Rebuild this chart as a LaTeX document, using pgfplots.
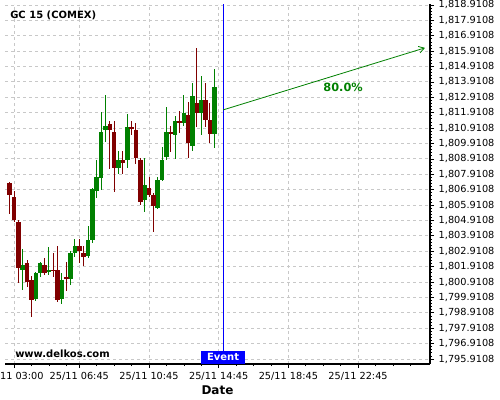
\documentclass[border=0pt]{standalone}
\usepackage{pgfplots}
\pgfplotsset{compat=1.18}
\usepackage{pgfplotstable}
\usepackage{fontspec}
\setmainfont{DejaVu Sans}
\usetikzlibrary{arrows.meta}
\definecolor{cgreen}{RGB}{0,128,0}
\definecolor{cred}{RGB}{128,0,0}
\definecolor{gridc}{RGB}{200,200,200}
\definecolor{evblue}{RGB}{0,0,255}

\pgfplotstableread{
t o h l c
3.50 1801.71 1803.04 1800.39 1802.02
4.25 1799.79 1801.56 1799.70 1801.50
4.50 1801.50 1802.23 1801.22 1802.15
5.00 1801.54 1803.23 1801.41 1801.71
5.75 1799.83 1801.48 1799.48 1801.04
6.25 1801.13 1802.93 1800.70 1802.80
6.50 1802.82 1803.69 1802.56 1803.25
7.25 1802.60 1804.57 1802.47 1803.64
7.50 1803.64 1807.02 1803.43 1806.96
7.75 1806.83 1808.82 1806.37 1807.72
8.00 1807.67 1811.94 1806.89 1810.68
8.25 1810.79 1813.06 1810.03 1811.05
9.00 1808.32 1809.41 1807.91 1808.84
9.50 1808.84 1811.85 1808.32 1810.98
10.50 1806.24 1808.95 1805.48 1807.22
11.25 1805.72 1807.72 1805.64 1807.54
11.50 1807.54 1809.70 1807.48 1808.84
11.75 1809.05 1812.27 1808.86 1810.66
12.25 1810.48 1811.70 1808.89 1811.37
12.75 1811.24 1813.06 1811.05 1811.89
13.25 1809.75 1813.82 1809.42 1813.00
13.75 1811.91 1814.28 1810.46 1812.74
14.50 1810.53 1814.75 1809.64 1813.58
}\upT

\pgfplotstableread{
t o h l c
2.75 1807.33 1807.38 1805.33 1806.59
3.00 1806.44 1806.85 1804.79 1804.94
3.25 1804.83 1804.94 1800.89 1801.84
3.75 1802.15 1802.34 1800.57 1800.93
4.00 1801.04 1801.30 1798.62 1799.76
4.75 1802.02 1802.49 1801.39 1801.50
5.25 1801.71 1802.78 1801.22 1801.63
5.50 1801.71 1803.23 1799.59 1799.76
6.00 1801.24 1802.19 1800.33 1801.11
6.75 1803.25 1803.69 1802.17 1802.93
7.00 1802.80 1803.25 1801.93 1802.56
8.50 1811.18 1811.39 1808.27 1810.79
8.75 1810.66 1811.39 1806.76 1808.32
9.25 1808.84 1809.41 1807.91 1808.66
9.75 1810.98 1811.39 1810.46 1810.85
10.00 1810.79 1811.22 1808.60 1808.99
10.25 1808.84 1808.99 1805.96 1806.13
10.75 1807.02 1807.72 1806.42 1806.57
11.00 1806.57 1806.70 1804.18 1805.85
12.00 1810.66 1811.05 1809.34 1810.53
12.50 1811.37 1812.04 1810.61 1811.24
13.00 1811.76 1812.63 1808.99 1809.92
13.50 1812.54 1816.12 1810.96 1811.91
14.00 1812.74 1813.82 1810.96 1811.44
14.25 1811.44 1812.52 1809.92 1810.53
}\downT

\begin{document}
\begin{tikzpicture}
\path[use as bounding box] (-3.75pt,-27pt) rectangle (371.25pt,273pt);
\begin{axis}[
  at={(0,0)}, anchor=south west,
  scale only axis, width=318.75pt, height=270pt,
  xmin=2.483, xmax=26.88, ymin=1795.585, ymax=1818.97,
  axis x line*=bottom, axis y line*=right,
  axis line style={line width=0.8pt, black},
  xtick={3,6.75,10.75,14.75,18.75,22.75},
  xticklabels={25/11 03:00,25/11 06:45,25/11 10:45,25/11 14:45,25/11 18:45,25/11 22:45},
  minor xtick={4,5,6,7.75,8.75,9.75,11.75,12.75,13.75,15.75,16.75,17.75,19.75,20.75,21.75,23.75,24.75,25.75},
  ytick={1795.9108,1796.9108,1797.9108,1798.9108,1799.9108,1800.9108,1801.9108,1802.9108,1803.9108,1804.9108,1805.9108,1806.9108,1807.9108,1808.9108,1809.9108,1810.9108,1811.9108,1812.9108,1813.9108,1814.9108,1815.9108,1816.9108,1817.9108,1818.9108},
  yticklabels={{1,795.9108},{1,796.9108},{1,797.9108},{1,798.9108},{1,799.9108},{1,800.9108},{1,801.9108},{1,802.9108},{1,803.9108},{1,804.9108},{1,805.9108},{1,806.9108},{1,807.9108},{1,808.9108},{1,809.9108},{1,810.9108},{1,811.9108},{1,812.9108},{1,813.9108},{1,814.9108},{1,815.9108},{1,816.9108},{1,817.9108},{1,818.9108}},
  minor y tick num=4,
  yticklabel pos=right,
  tick align=outside,
  major tick length=3pt, minor tick length=1.6pt,
  tick style={black, line width=0.5pt},
  tick label style={font=\fontsize{7.3}{8}\selectfont},
  xmajorgrids, ymajorgrids,
  major grid style={gridc, line width=0.6pt, dash pattern=on 2.25pt off 2.25pt},
  xlabel={Date},
  xlabel style={font=\fontsize{9}{10}\selectfont\bfseries, yshift=3pt},
  clip mode=individual,
]
% wicks
\addplot[draw=none, mark=none, error bars/.cd, y dir=both, y explicit, error mark=none, error bar style={draw=cgreen, line width=0.75pt}]
  table[x=t, y expr={(\thisrow{h}+\thisrow{l})/2}, y error expr={(\thisrow{h}-\thisrow{l})/2}] {\upT};
\addplot[draw=none, mark=none, error bars/.cd, y dir=both, y explicit, error mark=none, error bar style={draw=cred, line width=0.75pt}]
  table[x=t, y expr={(\thisrow{h}+\thisrow{l})/2}, y error expr={(\thisrow{h}-\thisrow{l})/2}] {\downT};
% bodies
\addplot[draw=none, mark=none, error bars/.cd, y dir=both, y explicit, error mark=none, error bar style={draw=cgreen, line width=3.4pt}]
  table[x=t, y expr={(\thisrow{o}+\thisrow{c})/2}, y error expr={abs(\thisrow{c}-\thisrow{o})/2}] {\upT};
\addplot[draw=none, mark=none, error bars/.cd, y dir=both, y explicit, error mark=none, error bar style={draw=cred, line width=3.4pt}]
  table[x=t, y expr={(\thisrow{o}+\thisrow{c})/2}, y error expr={abs(\thisrow{c}-\thisrow{o})/2}] {\downT};
% event line
\addplot[evblue, line width=0.75pt, mark=none] coordinates {(15,1795.585) (15,1818.97)};
% projection arrow
\addplot[cgreen, line width=0.6pt, mark=none, -{Straight Barb[length=4pt,width=5pt]}] coordinates {(15,1812.09) (26.59,1816.12)};
\node[cgreen, font=\fontsize{8.5}{10}\selectfont\bfseries] at (axis cs:21.89,1813.58) {80.0\%};
\node[anchor=west, inner sep=0pt, font=\fontsize{7.5}{9}\selectfont\bfseries] at (rel axis cs:0.0118,0.968) {GC 15 (COMEX)};
\node[anchor=west, inner sep=0pt, font=\fontsize{7.5}{9}\selectfont\bfseries] at (rel axis cs:0.0235,0.029) {www.delkos.com};
\node[anchor=south, fill=evblue, text=white, font=\fontsize{7.5}{9}\selectfont\bfseries, inner xsep=4.5pt, inner ysep=0pt, minimum height=9.75pt] at (axis cs:15,1795.585) {Event};
\end{axis}
\end{tikzpicture}
\end{document}
